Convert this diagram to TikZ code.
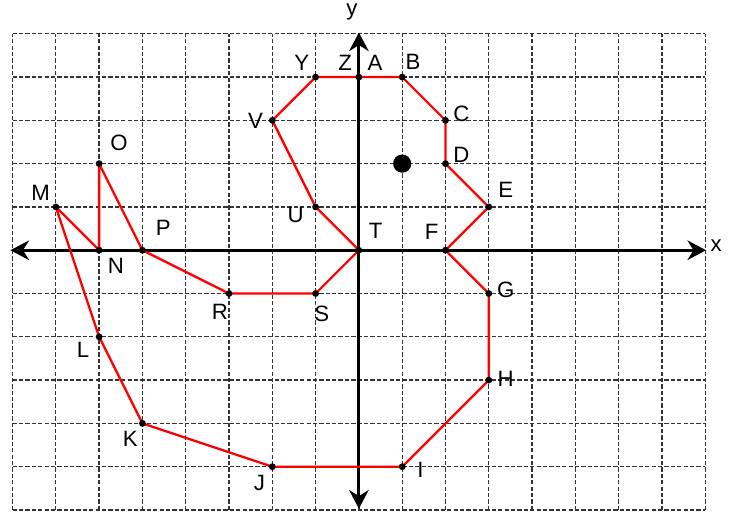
\documentclass[tikz,border=0pt]{standalone}
\usepackage{fontspec}
\setmainfont{Liberation Sans}
\usetikzlibrary{arrows.meta}
\tikzset{
  gridline/.style={black!80,line width=0.85pt,dash pattern=on 2.8pt off 1.4pt},
  axisline/.style={line width=2.1pt,{Stealth[length=4.3mm,width=4.5mm]}-{Stealth[length=4.3mm,width=4.5mm]}},
  outline/.style={red,line width=1.5pt,line join=round},
  vertex/.style={circle,fill=black,inner sep=0pt,minimum size=4.5pt},
  lbl/.style={font=\fontsize{14.6}{16}\selectfont,inner sep=0pt},
}

\begin{document}
\begin{tikzpicture}
  \useasboundingbox (-8.29,-6.05) rectangle (8.78,5.78);
  \draw[gridline] (-8,-6) grid (8,5);
  \draw[axisline] (-8.05,0) -- (8.02,0);
  \draw[axisline] (0,-5.97) -- (0,5.03);
  \node[lbl] (xlabel) at (8.25,0.1) {x};
  \node[lbl] (ylabel) at (-0.16,5.5) {y};

  \foreach \n/\x/\y in {A/0/4,B/1/4,C/2/3,D/2/2,E/3/1,F/2/0,G/3/-1,H/3/-3,I/1/-5,
      J/-2/-5,K/-5/-4,L/-6/-2,M/-7/1,N/-6/0,O/-6/2,P/-5/0,R/-3/-1,S/-1/-1,
      T/0/0,U/-1/1,V/-2/3,Y/-1/4,Z/0/4}
    \coordinate (\n) at (\x,\y);

  \draw[outline] (A) -- (B) -- (C) -- (D) -- (E) -- (F) -- (G) -- (H) -- (I)
    -- (J) -- (K) -- (L) -- (M) -- (N) -- (O) -- (P) -- (R) -- (S) -- (T)
    -- (U) -- (V) -- (Y) -- (Z) -- cycle;

  \foreach \n in {A,B,C,D,E,F,G,H,I,J,K,L,M,N,O,P,R,S,T,U,V,Y}
    \node[vertex] (d\n) at (\n) {};
  \node[circle,fill=black,inner sep=0pt,minimum size=0.42cm] (eye) at (1,2) {};

  \foreach \n/\dx/\dy in {A/0.37/0.32,B/0.25/0.35,C/0.37/0.16,D/0.37/0.21,
      E/0.39/0.39,F/-0.32/0.42,G/0.39/0.09,H/0.39/0.02,I/0.42/-0.07,
      J/-0.30/-0.37,K/-0.28/-0.35,L/-0.37/-0.30,M/-0.35/0.32,N/0.39/-0.35,
      O/0.46/0.48,P/0.48/0.51,R/-0.21/-0.42,S/0.14/-0.46,T/0.39/0.44,
      U/-0.46/-0.18,V/-0.39/-0.02,Y/-0.32/0.32,Z/-0.32/0.32}
    \node[lbl] (l\n) at ([shift={(\dx,\dy)}]\n) {\n};
\end{tikzpicture}
\end{document}
